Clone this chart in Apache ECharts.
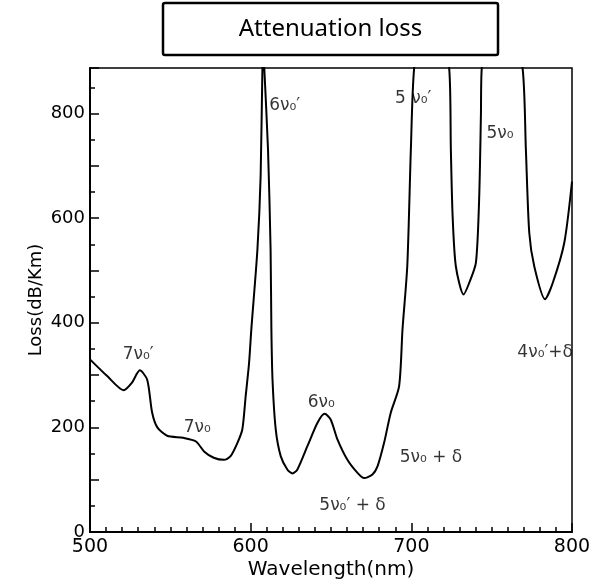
<!DOCTYPE html>
<html>
<head>
<meta charset="utf-8">
<script src="https://cdn.jsdelivr.net/npm/echarts@6/dist/echarts.min.js"></script>
<style>html,body{margin:0;padding:0;background:#fff}#c{width:610px;height:583px}</style>
</head>
<body>
<div id="c"></div>
<script>
// Wavelength (nm) and loss (dB/km)
var wavelength = [500, 510.7, 521, 526, 531, 535.6, 538.7, 541.9, 548, 558, 566, 571, 577, 583.4, 587.5, 591.7, 594.8, 596.9, 599, 600.4, 604.2, 606.2, 607.3, 607.9, 608.5, 610.8, 612.4, 612.9, 613.6, 615.6, 618.7, 622.9, 626, 629, 635.3, 641.6, 646.1, 649.8, 654, 660.2, 666.5, 670.6, 675.8, 679, 683, 687.2, 692.4, 694.5, 697.5, 699.7, 701.7, 712, 723.6, 724.6, 725.7, 727.7, 732.5, 736, 740.2, 742.2, 743.3, 743.8, 756, 769.3, 771.3, 773.4, 776.5, 783.2, 788, 795.2, 800];
var loss = [330, 298, 271, 285, 309, 291, 228, 200, 184, 180, 173, 154, 142, 138, 145, 170, 196, 260, 323, 387, 540, 680, 885, 930, 885, 731, 540, 387, 291, 196, 145, 119, 112, 119, 164, 209, 226, 215, 177, 138, 113, 103, 110, 126, 170, 228, 279, 387, 510, 731, 885, 1150, 885, 731, 604, 508, 454, 476, 515, 636, 795, 885, 1150, 885, 731, 572, 508, 445, 476, 553, 670];

// Annotation labels (text, wavelength, loss)
var noteText = ['7ν₀′', '7ν₀', '6ν₀′', '6ν₀', '5ν₀′ + δ', '5 ν₀′', '5ν₀ + δ', '5ν₀', '4ν₀′+δ'];
var noteX = [530, 566.8, 621.2, 644, 663.4, 701.2, 712.2, 755.2, 783.3];
var noteY = [340, 199, 816, 247, 50.7, 829, 141.6, 762, 342.6];

var xTicks = [500, 600, 700, 800];
var yTicks = [0, 200, 400, 600, 800];

var lineData = wavelength.map(function (w, i) { return [w, loss[i]]; });
var noteData = noteText.map(function (t, i) { return { name: t, value: [noteX[i], noteY[i]] }; });

var chart = echarts.init(document.getElementById('c'), null, { renderer: 'canvas' });
chart.setOption({
  animation: false,
  backgroundColor: '#fff',
  graphic: [
    { type: 'rect', shape: { x: 163, y: 3, width: 335, height: 52, r: 2 }, style: { fill: '#fff', stroke: '#000', lineWidth: 2.5 } },
    { type: 'text', x: 330.5, y: 29, style: { text: 'Attenuation loss', font: '24px "Noto Sans"', fill: '#000', textAlign: 'center', textVerticalAlign: 'middle' } }
  ],
  grid: { left: 90, right: 38, top: 68, bottom: 51, show: true, borderColor: '#000', borderWidth: 1.5, outerBoundsMode: 'none', containLabel: false },
  xAxis: {
    type: 'value', min: 500, max: 800, interval: 100,
    name: 'Wavelength(nm)', nameLocation: 'middle', nameGap: 28, nameMoveOverlap: false,
    nameTextStyle: { fontFamily: 'DejaVu Sans', fontSize: 20, color: '#000' },
    axisLine: { lineStyle: { color: '#000', width: 2 } },
    axisTick: { show: true, inside: true, length: 9, lineStyle: { color: '#000', width: 1.5 } },
    minorTick: { show: true, splitNumber: 10, length: 5, lineStyle: { color: '#000', width: 1.5 } },
    axisLabel: { margin: 6, fontFamily: 'DejaVu Sans', fontSize: 19, color: '#000',
      formatter: function (v) { return xTicks.indexOf(v) >= 0 ? String(v) : ''; } },
    splitLine: { show: false }
  },
  yAxis: {
    type: 'value', min: 0, max: 887, interval: 100,
    name: 'Loss(dB/Km)', nameLocation: 'middle', nameGap: 45, nameRotate: 90, nameMoveOverlap: false,
    nameTextStyle: { fontFamily: 'DejaVu Sans', fontSize: 18, color: '#000' },
    axisLine: { show: true, lineStyle: { color: '#000', width: 2 } },
    axisTick: { show: true, inside: true, length: 9, lineStyle: { color: '#000', width: 1.5 } },
    minorTick: { show: true, splitNumber: 2, length: 5, lineStyle: { color: '#000', width: 1.5 } },
    axisLabel: { margin: 5, fontFamily: 'DejaVu Sans', fontSize: 18, color: '#000', showMaxLabel: false,
      formatter: function (v) { return yTicks.indexOf(v) >= 0 ? String(v) : ''; } },
    splitLine: { show: false }
  },
  series: [
    {
      type: 'line', data: lineData, smooth: 0.25, showSymbol: false, clip: true,
      lineStyle: { color: '#000', width: 2 }
    },
    {
      type: 'scatter', data: noteData, symbolSize: 1, silent: true,
      itemStyle: { color: 'rgba(0,0,0,0)' },
      label: { show: true, position: 'inside', formatter: '{b}', fontFamily: 'DejaVu Sans', fontSize: 17, color: '#000', textBorderWidth: 0 }
    }
  ]
});
</script>
</body>
</html>
